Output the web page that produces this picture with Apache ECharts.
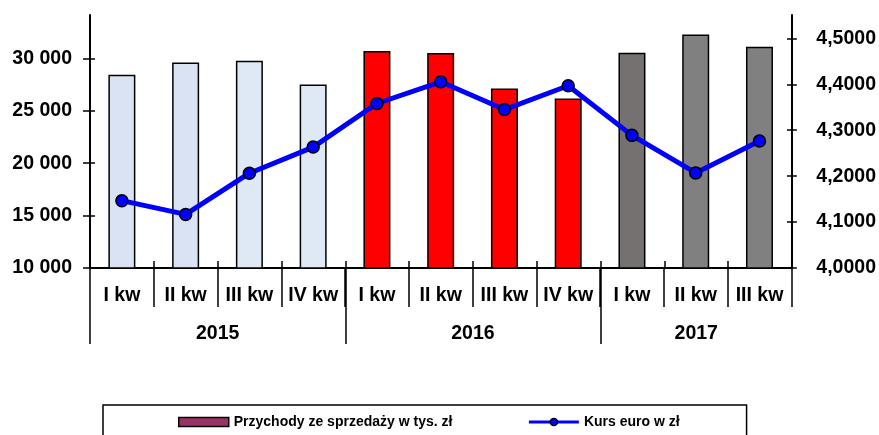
<!DOCTYPE html>
<html>
<head>
<meta charset="utf-8">
<script src="https://cdn.jsdelivr.net/npm/echarts@6/dist/echarts.min.js"></script>
<style>
html,body{margin:0;padding:0;background:#fff;}
#chart{width:879px;height:435px;}
</style>
</head>
<body>
<div id="chart"></div>
<script>
// ---- data ----
const quarters = ['I kw','II kw','III kw','IV kw','I kw','II kw','III kw','IV kw','I kw','II kw','III kw'];
const years = ['2015','2016','2017'];
const yearCenters = [2, 6, 9.5];      // position of year label on group axis (in category units)
const yearBoundaries = [0, 4, 8];     // group separators (in category units)
const revenue = [28450, 29600, 29780, 27510, 30700, 30510, 27130, 26170, 30540, 32270, 31120];
const euroRate = [4.1466, 4.1167, 4.2064, 4.2633, 4.3582, 4.4055, 4.3450, 4.3968, 4.2888, 4.2071, 4.2764];
const barColors = ['#DAE3F3','#DAE3F3','#DEE9F5','#DEE9F5','#FF0000','#FF0000','#FF0000','#FF0000','#767171','#808080','#808080'];
const leftTicks = [10000, 15000, 20000, 25000, 30000];
const rightTicks = [4.0, 4.1, 4.2, 4.3, 4.4, 4.5];
const seriesNames = ['Przychody ze sprzedaży w tys. zł', 'Kurs euro w zł'];

const FONT = "'Liberation Sans', Arial, sans-serif";
const lbl = {color:'#000', fontFamily:FONT, fontWeight:'bold', fontSize:19.5};
const LMIN = 10000, LMAX = 34140, RMIN = 4.0, RMAX = 4.5509;
const gridRect = {left:90, right:87, top:15, bottom:167, containLabel:false};
const tickStyle = {color:'#000', width:1.5};

const chart = echarts.init(document.getElementById('chart'), null, {renderer:'canvas'});
chart.setOption({
  animation:false,
  backgroundColor:'#fff',
  grid:[Object.assign({}, gridRect), Object.assign({}, gridRect), Object.assign({}, gridRect)],
  legend:{
    left:103, top:405,
    padding:[10,67,20,75],
    itemWidth:50, itemHeight:9, itemGap:75,
    borderColor:'#000', borderWidth:1.5,
    textStyle:{color:'#000', fontFamily:FONT, fontWeight:'bold', fontSize:14},
    data:[
      {name:seriesNames[0], icon:'rect', itemStyle:{color:'#993366', borderColor:'#000', borderWidth:1.5}},
      {name:seriesNames[1], lineStyle:{width:3, color:'#0000FF'}, itemStyle:{color:'#0000FF', borderColor:'#000', borderWidth:1.5}}
    ]
  },
  xAxis:[
    { // main quarter axis (grid 0)
      gridIndex:0, type:'category', data:quarters, position:'bottom',
      axisLine:{lineStyle:{color:'#000', width:2}},
      axisTick:{show:true, interval:0, length:39, lineStyle:tickStyle},
      axisLabel:Object.assign({interval:0, margin:18}, lbl),
      splitLine:{show:false}
    },
    { // inside (upward) ticks (grid 1)
      gridIndex:1, type:'value', min:0, max:quarters.length, position:'bottom',
      axisLine:{show:false},
      axisTick:{show:true, inside:true, length:7, customValues:[0,1,2,3,4,5,6,7,8,9,10], lineStyle:tickStyle},
      axisLabel:{show:false},
      splitLine:{show:false}
    },
    { // year group axis (grid 2)
      gridIndex:2, type:'value', min:0, max:quarters.length, position:'bottom',
      axisLine:{show:false},
      axisTick:{show:true, length:76, customValues:yearBoundaries, lineStyle:tickStyle},
      axisLabel:Object.assign({margin:56, customValues:yearCenters,
        formatter:(v)=>{const i=yearCenters.indexOf(v); return i>=0?years[i]:'';}}, lbl),
      splitLine:{show:false}
    }
  ],
  yAxis:[
    { // left, grid 0
      gridIndex:0, type:'value', position:'left', min:LMIN, max:LMAX,
      axisLine:{show:true, lineStyle:{color:'#000', width:2}},
      axisTick:{show:true, length:7, customValues:leftTicks, lineStyle:tickStyle},
      axisLabel:Object.assign({margin:18, customValues:leftTicks,
        formatter:(v)=>String(v).replace(/\B(?=(\d{3})+(?!\d))/g,' ')}, lbl),
      splitLine:{show:false}
    },
    { // right, grid 0
      gridIndex:0, type:'value', position:'right', min:RMIN, max:RMAX,
      axisLine:{show:true, lineStyle:{color:'#000', width:2}},
      axisTick:{show:true, length:5.5, customValues:rightTicks, lineStyle:tickStyle},
      axisLabel:Object.assign({margin:25, customValues:rightTicks,
        formatter:(v)=>v.toFixed(4).replace('.',',')}, lbl),
      splitLine:{show:false}
    },
    { // left inside ticks, grid 1
      gridIndex:1, type:'value', position:'left', min:LMIN, max:LMAX,
      axisLine:{show:false},
      axisTick:{show:true, inside:true, length:5, customValues:leftTicks, lineStyle:tickStyle},
      axisLabel:{show:false}, splitLine:{show:false}
    },
    { // right inside ticks, grid 1
      gridIndex:1, type:'value', position:'right', min:RMIN, max:RMAX,
      axisLine:{show:false},
      axisTick:{show:true, inside:true, length:5, customValues:rightTicks, lineStyle:tickStyle},
      axisLabel:{show:false}, splitLine:{show:false}
    },
    { // dummy for grid 2
      gridIndex:2, type:'value', position:'left', min:0, max:1, show:false
    }
  ],
  series:[
    {
      name:seriesNames[0], type:'bar', xAxisIndex:0, yAxisIndex:0,
      barWidth:27,
      itemStyle:{color:'#993366', borderColor:'#000', borderWidth:1.5},
      data:revenue.map((v,i)=>({value:v, itemStyle:{color:barColors[i]}})),
      z:2
    },
    {
      name:seriesNames[1], type:'line', xAxisIndex:0, yAxisIndex:1,
      data:euroRate,
      symbol:'circle', symbolSize:12,
      lineStyle:{color:'#0000FF', width:5},
      itemStyle:{color:'#0000FF', borderColor:'#000', borderWidth:1.5},
      z:5
    }
  ]
});
</script>
</body>
</html>
